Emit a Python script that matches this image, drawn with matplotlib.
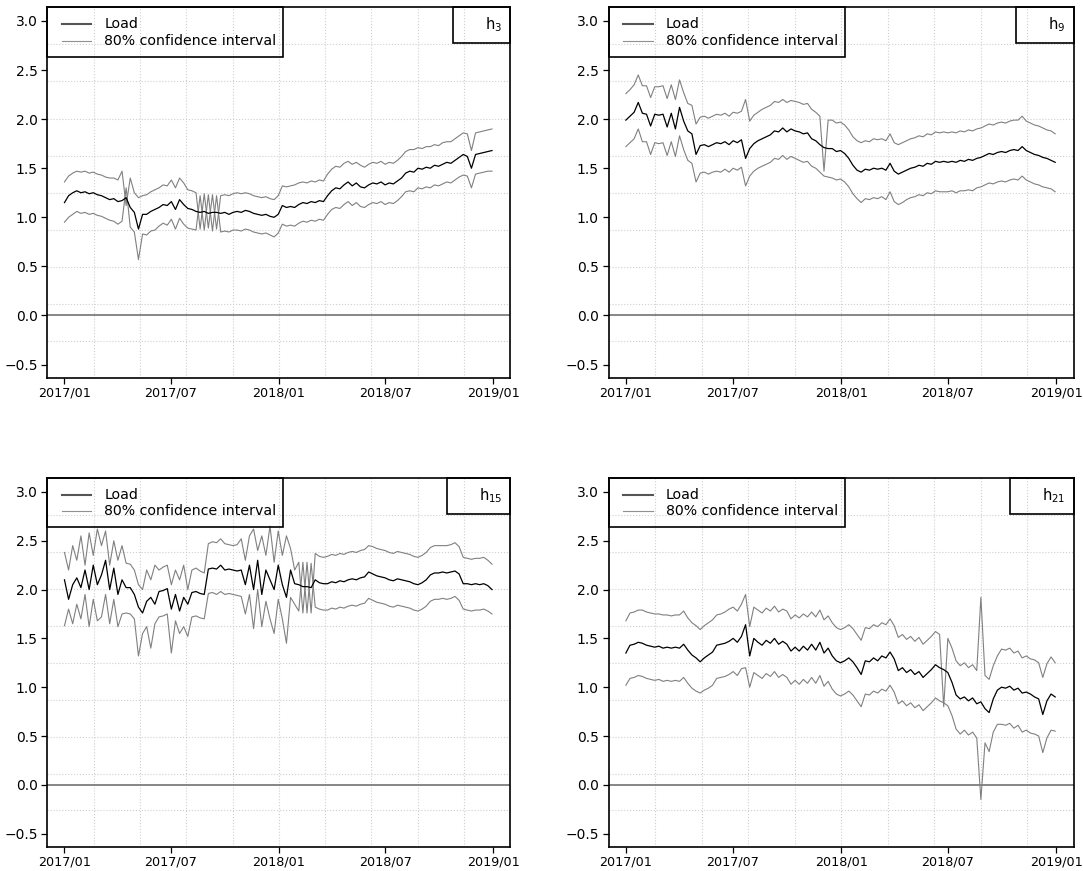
import numpy as np
import pandas as pd
import matplotlib
matplotlib.use("Agg")
import matplotlib.pyplot as plt
import matplotlib.dates as mdates
from matplotlib.patches import Rectangle
from matplotlib.lines import Line2D

# weekly samples, 2017-01-01 .. 2018-12-30
dates = pd.date_range("2017-01-01", periods=105, freq="7D")

x_tick_dates = ["2017-01-01", "2017-07-01", "2018-01-01", "2018-07-01", "2019-01-01"]
x_tick_labels = ["2017/01", "2017/07", "2018/01", "2018/07", "2019/01"]
y_ticks = [-0.5, 0.0, 0.5, 1.0, 1.5, 2.0, 2.5, 3.0]
legend_labels = ["Load", "80% confidence interval"]

# ---- hour 3
h3_load = [1.15, 1.22, 1.25, 1.27, 1.25, 1.26, 1.24, 1.25, 1.23, 1.22,
           1.20, 1.18, 1.19, 1.16, 1.17, 1.20, 1.10, 1.05, 0.88, 1.03,
           1.03, 1.06, 1.08, 1.10, 1.13, 1.12, 1.16, 1.08, 1.18, 1.13,
           1.09, 1.08, 1.06, 1.05, 1.06, 1.04, 1.05, 1.05, 1.04, 1.05,
           1.03, 1.05, 1.06, 1.05, 1.07, 1.06, 1.04, 1.03, 1.02, 1.03,
           1.01, 1.00, 1.03, 1.12, 1.10, 1.11, 1.10, 1.13, 1.15, 1.14,
           1.16, 1.15, 1.17, 1.16, 1.22, 1.27, 1.30, 1.29, 1.33, 1.36,
           1.32, 1.35, 1.31, 1.30, 1.33, 1.35, 1.34, 1.36, 1.33, 1.35,
           1.34, 1.37, 1.40, 1.45, 1.47, 1.46, 1.50, 1.49, 1.51, 1.50,
           1.53, 1.52, 1.54, 1.56, 1.55, 1.58, 1.61, 1.64, 1.62, 1.50,
           1.64, 1.65, 1.66, 1.67, 1.68]
h3_upper = [1.36, 1.42, 1.45, 1.47, 1.46, 1.47, 1.45, 1.46, 1.44, 1.43,
            1.41, 1.40, 1.40, 1.38, 1.47, 1.12, 1.40, 1.25, 1.20, 1.22,
            1.23, 1.26, 1.28, 1.30, 1.33, 1.32, 1.38, 1.30, 1.40, 1.35,
            1.28, 1.27, 1.25, 0.88, 1.24, 0.89, 1.23, 0.88, 1.22, 1.23,
            1.22, 1.24, 1.25, 1.24, 1.25, 1.24, 1.22, 1.21, 1.20, 1.21,
            1.19, 1.18, 1.22, 1.32, 1.31, 1.32, 1.33, 1.35, 1.36, 1.35,
            1.37, 1.36, 1.38, 1.37, 1.44, 1.49, 1.52, 1.51, 1.55, 1.57,
            1.54, 1.56, 1.53, 1.51, 1.54, 1.56, 1.55, 1.57, 1.54, 1.56,
            1.55, 1.58, 1.62, 1.67, 1.69, 1.69, 1.71, 1.70, 1.72, 1.72,
            1.74, 1.73, 1.76, 1.77, 1.77, 1.80, 1.83, 1.86, 1.85, 1.68,
            1.86, 1.87, 1.88, 1.89, 1.90]
h3_lower = [0.95, 1.00, 1.03, 1.06, 1.04, 1.05, 1.03, 1.04, 1.02, 1.01,
            0.99, 0.97, 0.96, 0.93, 0.96, 1.30, 0.90, 0.85, 0.57, 0.83,
            0.82, 0.86, 0.87, 0.91, 0.94, 0.92, 0.98, 0.88, 0.99, 0.93,
            0.89, 0.88, 0.87, 1.22, 0.87, 1.23, 0.86, 1.22, 0.85, 0.86,
            0.85, 0.87, 0.87, 0.86, 0.88, 0.87, 0.85, 0.84, 0.83, 0.84,
            0.82, 0.80, 0.84, 0.93, 0.91, 0.92, 0.91, 0.94, 0.96, 0.95,
            0.97, 0.96, 0.98, 0.97, 1.03, 1.08, 1.10, 1.09, 1.13, 1.16,
            1.12, 1.15, 1.11, 1.10, 1.13, 1.15, 1.14, 1.16, 1.13, 1.15,
            1.14, 1.17, 1.21, 1.26, 1.27, 1.26, 1.30, 1.29, 1.31, 1.30,
            1.33, 1.32, 1.34, 1.36, 1.35, 1.38, 1.41, 1.43, 1.42, 1.30,
            1.44, 1.45, 1.46, 1.47, 1.47]

# ---- hour 9
h9_load = [1.99, 2.03, 2.07, 2.17, 2.06, 2.05, 1.93, 2.05, 2.04, 2.05,
           1.92, 2.06, 1.90, 2.12, 1.98, 1.88, 1.85, 1.64, 1.73, 1.74,
           1.72, 1.74, 1.76, 1.75, 1.77, 1.74, 1.78, 1.76, 1.79, 1.60,
           1.70, 1.75, 1.78, 1.80, 1.82, 1.84, 1.88, 1.87, 1.91, 1.87,
           1.90, 1.88, 1.87, 1.85, 1.86, 1.80, 1.78, 1.74, 1.71, 1.70,
           1.70, 1.67, 1.68, 1.65, 1.60, 1.53, 1.48, 1.46, 1.49, 1.48,
           1.50, 1.49, 1.50, 1.48, 1.55, 1.47, 1.44, 1.46, 1.48, 1.50,
           1.51, 1.53, 1.52, 1.55, 1.54, 1.57, 1.56, 1.57, 1.56, 1.57,
           1.56, 1.58, 1.57, 1.59, 1.58, 1.60, 1.61, 1.63, 1.65, 1.64,
           1.66, 1.67, 1.66, 1.68, 1.69, 1.68, 1.72, 1.68, 1.66, 1.64,
           1.63, 1.61, 1.60, 1.58, 1.56]
h9_upper = [2.26, 2.30, 2.35, 2.45, 2.34, 2.34, 2.22, 2.33, 2.33, 2.34,
            2.21, 2.35, 2.20, 2.40, 2.27, 2.16, 2.14, 1.95, 2.02, 2.03,
            2.01, 2.03, 2.05, 2.04, 2.06, 2.03, 2.07, 2.06, 2.08, 2.20,
            1.98, 2.04, 2.07, 2.10, 2.12, 2.14, 2.18, 2.17, 2.20, 2.17,
            2.19, 2.18, 2.17, 2.15, 2.16, 2.10, 2.07, 2.03, 1.47, 1.99,
            1.99, 1.96, 1.97, 1.94, 1.89, 1.82, 1.78, 1.76, 1.78, 1.77,
            1.80, 1.79, 1.80, 1.78, 1.85, 1.76, 1.74, 1.76, 1.78, 1.80,
            1.81, 1.83, 1.82, 1.85, 1.84, 1.87, 1.86, 1.87, 1.86, 1.87,
            1.86, 1.88, 1.87, 1.89, 1.88, 1.90, 1.91, 1.93, 1.95, 1.94,
            1.96, 1.97, 1.96, 1.98, 1.99, 1.99, 2.03, 1.98, 1.96, 1.94,
            1.93, 1.91, 1.89, 1.88, 1.85]
h9_lower = [1.72, 1.76, 1.80, 1.90, 1.77, 1.77, 1.64, 1.76, 1.75, 1.76,
            1.63, 1.77, 1.62, 1.83, 1.69, 1.58, 1.55, 1.36, 1.45, 1.46,
            1.44, 1.46, 1.47, 1.46, 1.49, 1.46, 1.50, 1.48, 1.51, 1.32,
            1.42, 1.47, 1.50, 1.52, 1.54, 1.56, 1.60, 1.59, 1.63, 1.59,
            1.62, 1.60, 1.58, 1.56, 1.57, 1.52, 1.50, 1.46, 1.42, 1.41,
            1.40, 1.38, 1.39, 1.36, 1.31, 1.24, 1.19, 1.15, 1.19, 1.18,
            1.20, 1.19, 1.21, 1.18, 1.26, 1.16, 1.13, 1.15, 1.18, 1.20,
            1.21, 1.23, 1.22, 1.25, 1.24, 1.27, 1.26, 1.26, 1.26, 1.27,
            1.25, 1.27, 1.27, 1.28, 1.27, 1.30, 1.31, 1.33, 1.35, 1.34,
            1.36, 1.37, 1.36, 1.38, 1.39, 1.38, 1.42, 1.38, 1.36, 1.34,
            1.33, 1.31, 1.30, 1.29, 1.26]

# ---- hour 15
h15_load = [2.10, 1.90, 2.05, 2.12, 2.02, 2.20, 2.00, 2.25, 2.05, 2.15,
            2.30, 2.00, 2.22, 1.95, 2.10, 2.02, 2.02, 1.95, 1.82, 1.76,
            1.88, 1.92, 1.85, 1.98, 1.99, 2.01, 1.80, 1.95, 1.78, 1.92,
            1.85, 1.97, 1.98, 1.96, 1.95, 2.21, 2.22, 2.21, 2.25, 2.20,
            2.21, 2.20, 2.19, 2.20, 2.05, 2.25, 2.00, 2.30, 1.95, 2.20,
            2.10, 2.00, 2.25, 2.05, 1.92, 2.20, 2.06, 2.05, 2.03, 2.03,
            2.02, 2.10, 2.07, 2.06, 2.06, 2.08, 2.07, 2.09, 2.08, 2.10,
            2.11, 2.10, 2.12, 2.13, 2.18, 2.16, 2.14, 2.13, 2.12, 2.10,
            2.09, 2.11, 2.10, 2.09, 2.08, 2.06, 2.05, 2.07, 2.10, 2.15,
            2.17, 2.17, 2.18, 2.17, 2.18, 2.19, 2.16, 2.06, 2.06, 2.05,
            2.06, 2.05, 2.06, 2.04, 2.00]
h15_upper = [2.38, 2.20, 2.45, 2.30, 2.55, 2.25, 2.58, 2.35, 2.62, 2.45,
             2.60, 2.25, 2.50, 2.30, 2.45, 2.27, 2.26, 2.20, 2.05, 2.00,
             2.20, 2.10, 2.25, 2.20, 2.23, 2.25, 2.05, 2.20, 2.10, 2.25,
             2.00, 2.20, 2.22, 2.19, 2.17, 2.47, 2.49, 2.48, 2.52, 2.47,
             2.46, 2.45, 2.46, 2.52, 2.30, 2.55, 2.62, 2.40, 2.55, 2.35,
             2.65, 2.28, 2.60, 2.35, 2.55, 2.42, 2.20, 2.28, 1.76, 2.28,
             1.76, 2.37, 2.34, 2.33, 2.34, 2.36, 2.35, 2.37, 2.36, 2.38,
             2.39, 2.38, 2.40, 2.41, 2.45, 2.44, 2.42, 2.41, 2.40, 2.38,
             2.37, 2.39, 2.38, 2.37, 2.36, 2.34, 2.33, 2.35, 2.38, 2.43,
             2.45, 2.45, 2.45, 2.45, 2.46, 2.48, 2.44, 2.33, 2.32, 2.31,
             2.32, 2.32, 2.33, 2.30, 2.26]
h15_lower = [1.63, 1.80, 1.65, 1.85, 1.70, 1.95, 1.62, 1.90, 1.68, 1.72,
             1.95, 1.65, 1.90, 1.62, 1.75, 1.76, 1.75, 1.70, 1.32, 1.55,
             1.62, 1.40, 1.65, 1.72, 1.73, 1.75, 1.35, 1.68, 1.55, 1.62,
             1.52, 1.72, 1.73, 1.71, 1.70, 1.96, 1.97, 1.95, 1.98, 1.95,
             1.96, 1.95, 1.94, 1.93, 1.75, 1.95, 1.60, 2.00, 1.62, 1.88,
             1.70, 1.55, 1.90, 1.70, 1.45, 1.92, 1.85, 1.78, 2.28, 1.76,
             2.27, 1.82, 1.80, 1.79, 1.79, 1.81, 1.80, 1.82, 1.81, 1.83,
             1.84, 1.83, 1.85, 1.86, 1.91, 1.89, 1.87, 1.86, 1.85, 1.83,
             1.82, 1.84, 1.83, 1.82, 1.81, 1.79, 1.78, 1.80, 1.83, 1.88,
             1.90, 1.90, 1.91, 1.90, 1.91, 1.93, 1.89, 1.80, 1.79, 1.78,
             1.79, 1.79, 1.80, 1.78, 1.75]

# ---- hour 21
h21_load = [1.35, 1.43, 1.44, 1.46, 1.45, 1.43, 1.42, 1.41, 1.42, 1.40,
            1.41, 1.40, 1.41, 1.40, 1.44, 1.38, 1.33, 1.30, 1.26, 1.30,
            1.33, 1.36, 1.43, 1.44, 1.45, 1.47, 1.50, 1.46, 1.52, 1.64,
            1.32, 1.50, 1.46, 1.43, 1.48, 1.45, 1.50, 1.44, 1.47, 1.44,
            1.37, 1.41, 1.37, 1.42, 1.38, 1.44, 1.38, 1.46, 1.35, 1.40,
            1.32, 1.27, 1.25, 1.27, 1.30, 1.26, 1.20, 1.13, 1.27, 1.26,
            1.30, 1.27, 1.32, 1.30, 1.36, 1.29, 1.17, 1.20, 1.15, 1.18,
            1.13, 1.16, 1.10, 1.14, 1.18, 1.23, 1.20, 1.18, 1.15, 1.05,
            0.92, 0.88, 0.90, 0.86, 0.89, 0.83, 0.85, 0.78, 0.74, 0.88,
            0.97, 1.00, 0.99, 1.01, 0.97, 0.99, 0.94, 0.95, 0.93, 0.90,
            0.88, 0.72, 0.86, 0.93, 0.90]
h21_upper = [1.68, 1.76, 1.77, 1.79, 1.79, 1.77, 1.76, 1.75, 1.75, 1.74,
             1.74, 1.73, 1.74, 1.74, 1.78, 1.71, 1.66, 1.63, 1.59, 1.63,
             1.66, 1.69, 1.74, 1.75, 1.77, 1.80, 1.82, 1.78, 1.85, 1.95,
             1.62, 1.82, 1.79, 1.76, 1.81, 1.78, 1.83, 1.77, 1.80, 1.78,
             1.70, 1.74, 1.71, 1.75, 1.72, 1.77, 1.72, 1.79, 1.69, 1.73,
             1.66, 1.61, 1.59, 1.61, 1.64, 1.60, 1.54, 1.48, 1.61, 1.60,
             1.64, 1.62, 1.66, 1.64, 1.70, 1.63, 1.51, 1.54, 1.49, 1.52,
             1.47, 1.51, 1.44, 1.48, 1.52, 1.57, 1.54, 0.80, 1.50, 1.40,
             1.27, 1.22, 1.25, 1.20, 1.23, 1.17, 1.92, 1.12, 1.08, 1.22,
             1.32, 1.39, 1.38, 1.40, 1.35, 1.37, 1.30, 1.32, 1.29, 1.28,
             1.25, 1.10, 1.24, 1.31, 1.25]
h21_lower = [1.02, 1.09, 1.10, 1.12, 1.11, 1.09, 1.08, 1.07, 1.08, 1.06,
             1.07, 1.06, 1.07, 1.06, 1.10, 1.04, 0.99, 0.96, 0.94, 0.97,
             0.99, 1.02, 1.09, 1.10, 1.11, 1.13, 1.16, 1.12, 1.19, 1.20,
             1.00, 1.15, 1.12, 1.09, 1.14, 1.11, 1.16, 1.10, 1.13, 1.10,
             1.03, 1.07, 1.03, 1.08, 1.04, 1.10, 1.04, 1.12, 1.01, 1.06,
             0.98, 0.93, 0.91, 0.93, 0.96, 0.92, 0.86, 0.80, 0.93, 0.92,
             0.96, 0.94, 0.98, 0.96, 1.02, 0.95, 0.83, 0.86, 0.81, 0.84,
             0.79, 0.82, 0.76, 0.80, 0.84, 0.89, 0.86, 0.84, 0.81, 0.71,
             0.57, 0.52, 0.56, 0.51, 0.54, 0.48, -0.15, 0.43, 0.34, 0.54,
             0.62, 0.62, 0.61, 0.63, 0.58, 0.61, 0.54, 0.56, 0.53, 0.52,
             0.50, 0.33, 0.48, 0.56, 0.55]

panels = [
    ("3", h3_load, h3_upper, h3_lower),
    ("9", h9_load, h9_upper, h9_lower),
    ("15", h15_load, h15_upper, h15_lower),
    ("21", h21_load, h21_upper, h21_lower),
]

# axes rectangles in figure fractions
positions = [
    [0.0437, 0.5657, 0.4275, 0.4260],
    [0.5620, 0.5657, 0.4293, 0.4260],
    [0.0437, 0.0272, 0.4275, 0.4237],
    [0.5620, 0.0272, 0.4293, 0.4237],
]

GRAY = "#808080"
GRID = "#cfcfcf"

fig = plt.figure(figsize=(10.83, 8.71), dpi=100)
x = mdates.date2num(dates.to_pydatetime())
t0 = mdates.date2num(pd.Timestamp("2017-01-01").to_pydatetime())
t1 = mdates.date2num(pd.Timestamp("2019-01-01").to_pydatetime())
xpad = 0.04 * (t1 - t0)
ylo, yhi = -0.5, 3.0
ypad = 0.04 * (yhi - ylo)

label_texts = []
for (hour, load, upper, lower), pos in zip(panels, positions):
    ax = fig.add_axes(pos)
    ax.set_xlim(t0 - xpad, t1 + xpad)
    ax.set_ylim(ylo - ypad, yhi + ypad)

    # R-style grid: 10 equal cells each way
    for gx in np.linspace(*ax.get_xlim(), 11)[1:-1]:
        ax.axvline(gx, color=GRID, lw=0.8, ls=":", zorder=0)
    for gy in np.linspace(*ax.get_ylim(), 11)[1:-1]:
        ax.axhline(gy, color=GRID, lw=0.8, ls=":", zorder=0)

    ax.axhline(0, color="#666666", lw=1.1, zorder=1)
    ax.plot(x, upper, color=GRAY, lw=0.8, zorder=2)
    ax.plot(x, lower, color=GRAY, lw=0.8, zorder=2)
    ax.plot(x, load, color="black", lw=0.9, zorder=3)

    ax.set_xticks(mdates.date2num(pd.to_datetime(x_tick_dates).to_pydatetime()))
    ax.set_xticklabels(x_tick_labels)
    ax.set_yticks(y_ticks)
    ax.set_yticklabels([f"{v:.1f}".replace("-", "\u2212") for v in y_ticks])
    ax.tick_params(axis="x", length=4, width=0.9, pad=2, labelsize=9.2)
    ax.tick_params(axis="y", length=4, width=0.9, pad=3, labelsize=10)
    for sp in ax.spines.values():
        sp.set_linewidth(1.2)

    # legend box, top left, no fill
    ax.add_patch(Rectangle((0, 0.867), 0.509, 0.133, transform=ax.transAxes,
                           fill=False, lw=1.2, ec="black", clip_on=False, zorder=5))
    ax.add_line(Line2D([0.0315, 0.0946], [0.954, 0.954], transform=ax.transAxes,
                       color="#555555", lw=1.5, zorder=5))
    ax.add_line(Line2D([0.0315, 0.0946], [0.910, 0.910], transform=ax.transAxes,
                       color="#909090", lw=0.8, zorder=5))
    ax.text(0.123, 0.954, legend_labels[0], transform=ax.transAxes,
            ha="left", va="center", fontsize=10.2, zorder=6)
    ax.text(0.123, 0.910, legend_labels[1], transform=ax.transAxes,
            ha="left", va="center", fontsize=10.2, zorder=6)

    txt = ax.text(0.983, 0.952, f"h$_{{{hour}}}$", transform=ax.transAxes,
                  ha="right", va="center", fontsize=10.5, zorder=6)
    label_texts.append((ax, txt))

# hour label boxes sized from the rendered text
fig.canvas.draw()
renderer = fig.canvas.get_renderer()
for ax, txt in label_texts:
    bb = txt.get_window_extent(renderer)
    left = ax.transAxes.inverted().transform((bb.x0 - 32, 0))[0]
    ax.add_patch(Rectangle((left, 0.903), 1 - left, 0.097, transform=ax.transAxes,
                           fill=False, lw=1.2, ec="black", clip_on=False, zorder=5))

fig.savefig("out.png", dpi=100)
